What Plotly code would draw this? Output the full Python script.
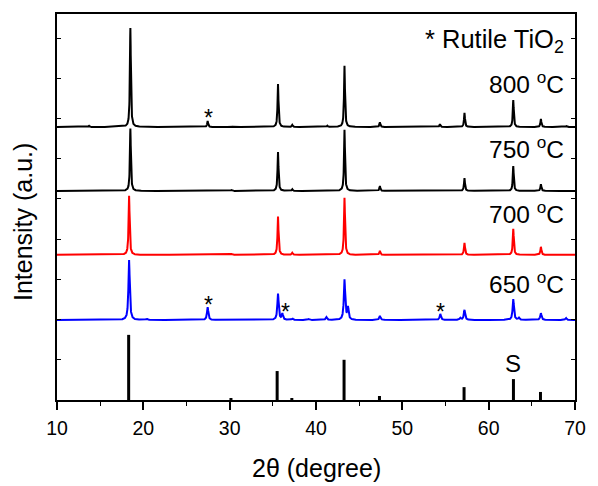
import numpy as np
import plotly.graph_objects as go

# ---------------- data ----------------
# peak positions (2theta, degree) and heights (a.u.) for each pattern
pk800_x = [13.7, 18.5, 27.45, 30.2, 35.6, 37.25, 41.3, 43.3, 47.4, 54.35, 57.2, 62.85, 66.05, 69.0]
pk800_h = [0.03, 2.46, 0.15, 0.02, 1.07, 0.05, 0.03, 1.52, 0.12, 0.07, 0.35, 0.67, 0.20, 0.02]
base800 = 6.79

pk750_x = [18.5, 30.2, 35.6, 37.25, 43.3, 47.4, 57.2, 62.85, 66.05]
pk750_h = [1.55, 0.02, 0.97, 0.04, 1.52, 0.12, 0.32, 0.62, 0.17]
base750 = 5.20

pk700_x = [18.35, 30.2, 35.6, 37.25, 43.3, 47.4, 57.2, 62.85, 66.05]
pk700_h = [1.47, 0.02, 0.95, 0.05, 1.42, 0.10, 0.30, 0.65, 0.20]
base700 = 3.61

pk650_x = [18.35, 20.4, 27.45, 35.6, 36.1, 37.25, 39.1, 41.2, 43.3, 43.7, 47.4, 54.4, 56.7, 57.2, 62.85, 63.5, 66.05, 68.95]
pk650_h = [1.49, 0.03, 0.32, 0.65, 0.15, 0.04, 0.02, 0.07, 1.00, 0.30, 0.10, 0.15, 0.05, 0.25, 0.52, 0.05, 0.17, 0.05]
base650 = 1.99

# standard reference sticks
std_x = [18.3, 30.15, 35.5, 37.2, 43.25, 47.35, 57.15, 62.87, 66.0]
std_h = [1.62, 0.05, 0.72, 0.05, 1.00, 0.10, 0.32, 0.52, 0.20]

x_ticks = [10, 20, 30, 40, 50, 60, 70]

labels = ["800 <sup>o</sup>C", "750 <sup>o</sup>C", "700 <sup>o</sup>C", "650 <sup>o</sup>C"]
label_y = [7.90, 6.28, 4.67, 2.93]

star800_x = [27.6]
star800_y = [7.14]
star650_x = [27.6, 36.5, 54.45]
star650_y = [2.49, 2.31, 2.31]

# ---------------- profile construction ----------------
grid = np.arange(10.0, 70.0001, 0.01)


def profile(px, ph, base, fwhm):
    g = fwhm / 2.0
    y = np.full_like(grid, base)
    for c, h in zip(px, ph):
        y += h * g * g / ((grid - c) ** 2 + g * g)
    return y


FONT = "Arial, Liberation Sans, sans-serif"
fig = go.Figure()

# sticks
sx, sy = [], []
for c, h in zip(std_x, std_h):
    sx += [c, c, None]
    sy += [0, h, None]
fig.add_trace(go.Scatter(x=sx, y=sy, mode="lines", line=dict(color="black", width=3), showlegend=False))

fig.add_trace(go.Scatter(x=grid, y=profile(pk650_x, pk650_h, base650, 0.18), mode="lines",
                         line=dict(color="#0000ff", width=2), showlegend=False))
fig.add_trace(go.Scatter(x=grid, y=profile(pk700_x, pk700_h, base700, 0.14), mode="lines",
                         line=dict(color="#ff0000", width=2), showlegend=False))
fig.add_trace(go.Scatter(x=grid, y=profile(pk750_x, pk750_h, base750, 0.13), mode="lines",
                         line=dict(color="black", width=2), showlegend=False))
fig.add_trace(go.Scatter(x=grid, y=profile(pk800_x, pk800_h, base800, 0.13), mode="lines",
                         line=dict(color="black", width=2), showlegend=False))

ann = []
for t, yy in zip(labels, label_y):
    ann.append(dict(x=68.9, y=yy, xref="x", yref="y", text=t, showarrow=False,
                    xanchor="right", yanchor="middle", font=dict(family=FONT, size=24.5, color="black")))
ann.append(dict(x=69.0, y=8.99, xref="x", yref="y", text="* Rutile TiO<sub>2</sub>", showarrow=False,
                xanchor="right", yanchor="middle", yshift=-2, font=dict(family=FONT, size=25.5, color="black")))
ann.append(dict(x=62.85, y=0.92, xref="x", yref="y", text="S", showarrow=False,
                xanchor="center", yanchor="middle", font=dict(family=FONT, size=24, color="black")))
for xs, ys in ((star800_x, star800_y), (star650_x, star650_y)):
    for a, b in zip(xs, ys):
        ann.append(dict(x=a, y=b, xref="x", yref="y", text="*", showarrow=False,
                        xanchor="center", yanchor="middle", yshift=-5,
                        font=dict(family=FONT, size=23, color="black")))
ann.append(dict(x=0, y=0.461, xref="paper", yref="paper", text="Intensity (a.u.)", textangle=-90,
                showarrow=False, xanchor="center", yanchor="middle", xshift=-34,
                font=dict(family=FONT, size=25, color="black")))
ann.append(dict(x=0.5, y=0, xref="paper", yref="paper", text="2θ (degree)",
                showarrow=False, xanchor="center", yanchor="middle", yshift=-68,
                font=dict(family=FONT, size=25, color="black")))

fig.update_layout(
    width=598, height=486,
    margin=dict(l=57, r=17, t=13, b=86),
    plot_bgcolor="white", paper_bgcolor="white",
    annotations=ann,
    font=dict(family=FONT, color="black"),
)
fig.update_xaxes(range=[10, 70], tickvals=x_ticks, ticks="outside", ticklen=8, tickwidth=1.5,
                 tickcolor="black", showline=True, linecolor="black", linewidth=1.8, mirror=True,
                 showgrid=False, zeroline=False, tickfont=dict(family=FONT, size=19.5, color="black"),
                 ticklabelstandoff=2,
                 minor=dict(dtick=5, tick0=10, ticks="outside", ticklen=4, tickwidth=1.2, tickcolor="black", showgrid=False))
fig.update_yaxes(range=[0, 9.6], dtick=1, tick0=0, ticks="inside", ticklen=4, tickwidth=1.2,
                 tickcolor="black", showline=True, linecolor="black", linewidth=1.8, mirror="ticks",
                 showgrid=False, zeroline=False, showticklabels=False)

fig.write_html("out.html", config={"displayModeBar": False, "responsive": False},
               post_script="document.body.style.margin='0';document.body.style.overflow='hidden';"
                           "document.documentElement.style.overflow='hidden';")
